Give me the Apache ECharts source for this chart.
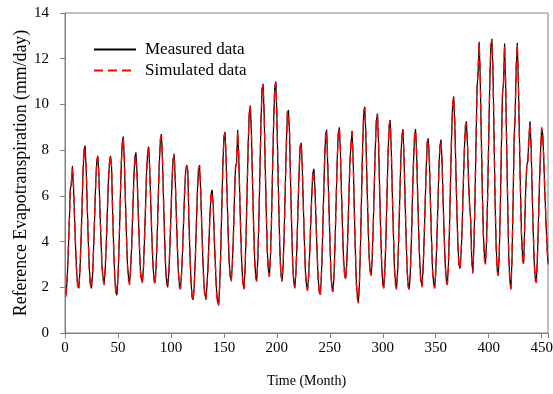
<!DOCTYPE html>
<html>
<head>
<meta charset="utf-8">
<script src="https://cdn.jsdelivr.net/npm/echarts@6/dist/echarts.min.js"></script>
<style>
html,body{margin:0;padding:0;background:#fff;}
#chart{width:553px;height:394px;}
</style>
</head>
<body>
<div id="chart"></div>
<script>
// Monthly reference evapotranspiration (mm/day), 38 years x 12 months
var measured = [
1.7, 2.3, 3.4, 4.8, 6.3, 6.5, 7.3, 6.4, 5.1, 3.7, 2.7, 2.1,
1.95, 2.6, 3.8, 5.4, 7.0, 8.0, 8.2, 7.2, 5.6, 4.0, 2.8, 2.1,
1.95, 2.5, 3.7, 5.1, 6.6, 7.5, 7.75, 6.9, 5.4, 4.0, 2.9, 2.4,
2.2, 2.8, 3.9, 5.3, 6.6, 7.5, 7.75, 7.25, 5.2, 3.7, 2.4, 1.8,
1.65, 2.35, 3.7, 5.5, 7.2, 8.3, 8.6, 7.6, 5.9, 4.3, 3.0, 2.4,
2.2, 2.8, 3.9, 5.3, 6.8, 7.7, 7.9, 7.0, 5.5, 4.1, 2.9, 2.4,
2.2, 2.8, 4.0, 5.5, 7.0, 7.9, 8.15, 7.2, 5.65, 4.2, 3.0, 2.4,
2.2, 2.85, 4.15, 5.8, 7.4, 8.4, 8.7, 7.6, 5.9, 4.2, 2.9, 2.2,
2.0, 2.6, 3.7, 5.2, 6.6, 7.6, 7.8, 6.9, 5.3, 3.9, 2.7, 2.1,
1.95, 2.5, 3.6, 4.9, 6.3, 7.1, 7.35, 7.1, 4.9, 3.4, 2.2, 1.6,
1.45, 2.05, 3.2, 4.7, 6.2, 7.1, 7.35, 6.4, 4.9, 3.4, 2.3, 1.7,
1.5, 2.0, 2.9, 4.1, 5.3, 6.1, 6.27, 5.5, 4.1, 2.9, 1.9, 1.4,
1.22, 2.0, 3.5, 5.4, 7.3, 8.5, 8.8, 7.8, 6.1, 4.4, 3.1, 2.5,
2.3, 3.0, 4.3, 5.9, 7.3, 7.4, 8.88, 7.8, 6.0, 4.2, 2.9, 2.2,
1.95, 2.75, 4.35, 6.35, 8.35, 9.6, 9.95, 8.7, 6.7, 4.8, 3.3, 2.5,
2.28, 3.15, 4.9, 7.0, 9.2, 10.6, 10.9, 9.6, 7.4, 5.3, 3.6, 2.75,
2.5, 3.35, 5.05, 7.2, 9.3, 10.7, 11.0, 9.6, 7.3, 5.2, 3.4, 2.55,
2.28, 3.0, 4.5, 6.4, 8.3, 9.65, 9.75, 8.7, 6.5, 4.6, 3.0, 2.25,
2.0, 2.65, 3.9, 5.5, 7.1, 8.1, 8.32, 7.3, 5.6, 4.0, 2.7, 2.1,
1.9, 2.45, 3.5, 4.8, 6.1, 7.0, 7.18, 6.3, 4.9, 3.5, 2.4, 1.85,
1.68, 2.4, 3.85, 5.65, 7.45, 8.6, 8.9, 7.4, 5.9, 4.2, 2.7, 2.0,
1.82, 2.55, 4.0, 5.8, 7.6, 8.7, 9.0, 8.0, 6.2, 4.6, 3.2, 2.6,
2.38, 3.0, 4.3, 5.9, 7.5, 8.2, 8.85, 7.7, 5.7, 3.8, 2.3, 1.6,
1.36, 2.2, 3.9, 6.05, 8.2, 9.6, 9.9, 8.7, 6.8, 5.0, 3.5, 2.8,
2.55, 3.25, 4.7, 6.4, 8.2, 9.3, 9.6, 8.4, 6.4, 4.5, 3.0, 2.2,
2.0, 2.75, 4.2, 6.0, 7.85, 9.0, 9.32, 8.1, 6.2, 4.4, 2.9, 2.2,
1.96, 2.65, 4.05, 5.8, 7.5, 8.6, 8.92, 7.8, 6.0, 4.2, 2.8, 2.1,
1.92, 2.6, 4.0, 5.8, 7.5, 8.6, 8.92, 7.8, 6.0, 4.3, 3.0, 2.3,
2.06, 2.7, 4.0, 5.6, 7.2, 8.3, 8.52, 7.5, 5.8, 4.1, 2.8, 2.2,
1.98, 2.6, 3.9, 5.5, 7.2, 8.2, 8.46, 7.45, 5.8, 4.2, 3.0, 2.3,
2.14, 2.95, 4.6, 6.7, 8.7, 10.0, 10.35, 9.2, 7.2, 5.3, 3.8, 3.0,
2.82, 3.5, 4.7, 6.4, 8.0, 9.0, 9.26, 8.2, 6.7, 5.5, 5.0, 3.2,
2.67, 3.7, 5.7, 8.2, 10.7, 11.4, 12.74, 11.2, 8.7, 6.2, 4.3, 3.3,
3.04, 4.0, 6.0, 8.4, 10.9, 12.5, 12.87, 11.6, 8.8, 5.9, 3.9, 2.8,
2.52, 3.5, 5.5, 8.1, 10.5, 10.9, 12.66, 10.9, 8.2, 5.5, 3.3, 2.3,
1.94, 3.2, 5.6, 8.4, 9.6, 11.6, 12.7, 11.0, 8.6, 6.2, 4.3, 3.3,
3.05, 4.6, 6.4, 7.3, 7.6, 8.5, 9.26, 8.2, 6.3, 4.5, 3.1, 2.4,
2.21, 3.3, 4.9, 6.6, 8.0, 8.98, 8.7, 7.6, 6.2, 5.0, 3.9, 3.1
];
var simulated = [
1.6, 2.4, 3.5, 4.8, 6.2, 6.6, 7.2, 6.5, 5.0, 3.8, 2.6, 2.0,
1.9, 2.7, 3.9, 5.3, 7.1, 8.1, 8.15, 7.3, 5.5, 4.1, 2.7, 2.0,
2.0, 2.5, 3.8, 5.2, 6.5, 7.6, 7.7, 7.0, 5.3, 4.1, 2.8, 2.3,
2.1, 2.9, 3.9, 5.4, 6.7, 7.4, 7.8, 7.2, 5.3, 3.6, 2.5, 1.7,
1.7, 2.3, 3.8, 5.4, 7.3, 8.2, 8.55, 7.7, 5.8, 4.4, 2.9, 2.3,
2.1, 2.9, 3.8, 5.4, 6.7, 7.8, 7.85, 7.1, 5.4, 4.2, 2.8, 2.3,
2.2, 2.7, 4.1, 5.4, 7.1, 7.8, 8.2, 7.1, 5.7, 4.1, 3.1, 2.3,
2.1, 2.9, 4.1, 5.9, 7.3, 8.5, 8.65, 7.7, 5.8, 4.3, 2.8, 2.1,
2.05, 2.5, 3.8, 5.1, 6.7, 7.5, 7.85, 6.8, 5.4, 3.8, 2.8, 2.0,
1.9, 2.6, 3.5, 5.0, 6.2, 7.2, 7.3, 7.0, 5.0, 3.3, 2.3, 1.5,
1.4, 2.1, 3.1, 4.8, 6.1, 7.2, 7.3, 6.5, 4.8, 3.5, 2.2, 1.6,
1.45, 2.1, 2.8, 4.2, 5.2, 6.2, 6.2, 5.6, 4.0, 3.0, 1.8, 1.3,
1.2, 2.1, 3.4, 5.5, 7.2, 8.6, 8.75, 7.9, 6.0, 4.5, 3.0, 2.4,
2.25, 3.1, 4.2, 6.0, 7.2, 7.5, 8.8, 7.9, 5.9, 4.3, 2.8, 2.1,
1.9, 2.8, 4.3, 6.4, 8.3, 9.7, 9.9, 8.8, 6.6, 4.9, 3.2, 2.4,
2.25, 3.2, 4.8, 7.1, 9.1, 10.7, 10.85, 9.7, 7.3, 5.4, 3.5, 2.7,
2.45, 3.4, 5.0, 7.3, 9.2, 10.8, 10.95, 9.7, 7.2, 5.3, 3.3, 2.5,
2.25, 3.1, 4.4, 6.5, 8.2, 9.7, 9.7, 8.8, 6.4, 4.7, 2.9, 2.2,
1.95, 2.7, 3.8, 5.6, 7.0, 8.2, 8.3, 7.4, 5.5, 4.1, 2.6, 2.0,
1.85, 2.5, 3.4, 4.9, 6.0, 7.1, 7.15, 6.4, 4.8, 3.6, 2.3, 1.8,
1.6, 2.5, 3.8, 5.7, 7.4, 8.7, 8.85, 7.5, 5.8, 4.3, 2.6, 1.9,
1.8, 2.6, 3.9, 5.9, 7.5, 8.8, 8.95, 8.1, 6.1, 4.7, 3.1, 2.5,
2.35, 3.1, 4.2, 6.0, 7.4, 8.3, 8.8, 7.8, 5.6, 3.9, 2.2, 1.5,
1.3, 2.3, 3.8, 6.1, 8.1, 9.7, 9.85, 8.8, 6.7, 5.1, 3.4, 2.7,
2.5, 3.3, 4.6, 6.5, 8.1, 9.4, 9.55, 8.5, 6.3, 4.6, 2.9, 2.1,
1.95, 2.8, 4.1, 6.1, 7.8, 9.1, 9.3, 8.2, 6.1, 4.5, 2.8, 2.1,
1.9, 2.7, 4.0, 5.9, 7.4, 8.7, 8.9, 7.9, 5.9, 4.3, 2.7, 2.0,
1.9, 2.7, 3.9, 5.9, 7.4, 8.7, 8.85, 7.9, 5.9, 4.4, 2.9, 2.2,
2.0, 2.8, 3.9, 5.7, 7.1, 8.4, 8.5, 7.6, 5.7, 4.2, 2.7, 2.1,
1.95, 2.7, 3.8, 5.6, 7.1, 8.3, 8.4, 7.5, 5.7, 4.3, 2.9, 2.2,
2.1, 3.0, 4.5, 6.8, 8.6, 10.1, 10.3, 9.3, 7.1, 5.4, 3.7, 2.9,
2.8, 3.6, 4.6, 6.5, 7.9, 9.1, 9.2, 8.3, 6.6, 5.6, 4.9, 3.1,
2.6, 3.8, 5.6, 8.3, 10.6, 11.5, 12.7, 11.3, 8.6, 6.3, 4.2, 3.2,
3.0, 4.1, 5.9, 8.5, 10.8, 12.6, 12.8, 11.7, 8.7, 6.0, 3.8, 2.7,
2.5, 3.6, 5.4, 8.2, 10.4, 11.0, 12.6, 11.0, 8.1, 5.6, 3.2, 2.2,
1.9, 3.3, 5.5, 8.5, 9.5, 11.7, 12.65, 11.1, 8.5, 6.3, 4.2, 3.2,
3.0, 4.7, 6.3, 7.4, 7.5, 8.6, 9.2, 8.3, 6.2, 4.6, 3.0, 2.3,
2.2, 3.4, 4.8, 6.7, 7.9, 9.0, 8.65, 7.7, 6.1, 5.1, 3.8, 3.0
];
var seriesNames = ['Measured data', 'Simulated data'];
var xTitle = 'Time (Month)';
var yTitle = 'Reference Evapotranspiration (mm/day)';

function toPairs(arr) {
  return arr.map(function (v, i) { return [i + 1, v]; });
}

var serif = '"Liberation Serif", "Times New Roman", serif';
var axisGray = '#808080';
var chart = echarts.init(document.getElementById('chart'), null, { renderer: 'canvas' });
chart.setOption({
  animation: false,
  backgroundColor: '#fff',
  grid: { left: 65, right: 5, top: 13, bottom: 61, containLabel: false, outerBoundsMode: 'none',
    show: true, borderColor: axisGray, borderWidth: 1, backgroundColor: 'transparent' },
  legend: {
    orient: 'vertical', left: 93, top: 41, padding: 0,
    itemWidth: 42, itemHeight: 14, itemGap: 4,
    data: seriesNames,
    itemStyle: { color: 'transparent', borderColor: 'transparent', borderWidth: 0, opacity: 0 },
    textStyle: { fontFamily: serif, fontSize: 17, color: '#000', padding: [0, 0, 0, 4] }
  },
  xAxis: {
    type: 'value', min: 0, max: 456, interval: 50,
    name: xTitle, nameLocation: 'middle', nameGap: 41, nameMoveOverlap: false,
    nameTextStyle: { fontFamily: serif, fontSize: 14, color: '#000' },
    axisLine: { show: true, lineStyle: { color: axisGray, width: 1 } },
    axisTick: { show: true, inside: false, length: 5, lineStyle: { color: axisGray } },
    axisLabel: { fontFamily: serif, fontSize: 15, color: '#000', margin: 8,
      formatter: function (v) { return v % 50 === 0 ? String(v) : ''; } },
    splitLine: { show: false }
  },
  yAxis: {
    type: 'value', min: 0, max: 14, interval: 2,
    name: yTitle, nameLocation: 'middle', nameGap: 35, nameRotate: 90, nameMoveOverlap: false,
    nameTextStyle: { fontFamily: serif, fontSize: 17.8, color: '#000' },
    axisLine: { show: true, lineStyle: { color: axisGray, width: 1 } },
    axisTick: { show: true, inside: false, length: 5, lineStyle: { color: axisGray } },
    axisLabel: { fontFamily: serif, fontSize: 15, color: '#000', margin: 16 },
    splitLine: { show: false }
  },
  series: [
    {
      name: seriesNames[0], type: 'line', data: toPairs(measured),
      symbol: 'none', showSymbol: false,
      lineStyle: { color: '#000', width: 1.2 }, itemStyle: { color: '#000' }, z: 2
    },
    {
      name: seriesNames[1], type: 'line', data: toPairs(simulated),
      symbol: 'none', showSymbol: false,
      lineStyle: { color: '#ff0000', width: 1.4, type: [9, 5] }, itemStyle: { color: '#ff0000' }, z: 3
    }
  ]
});
</script>
</body>
</html>
